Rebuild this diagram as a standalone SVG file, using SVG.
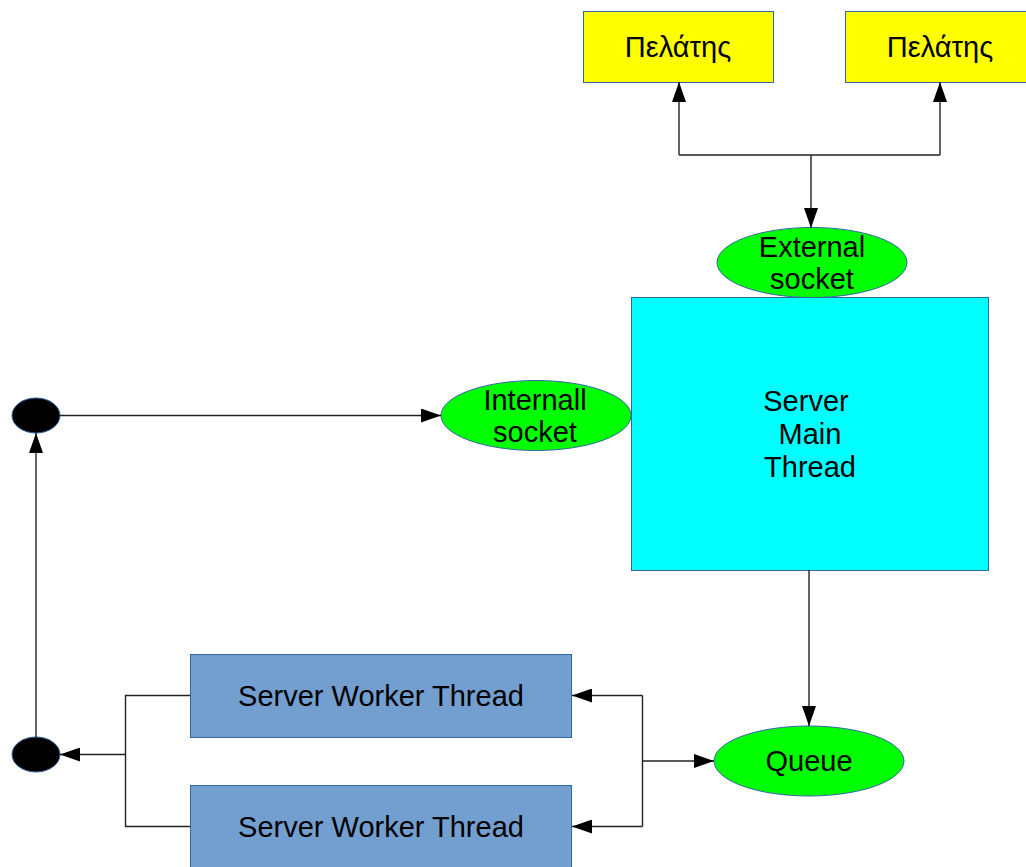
<svg xmlns="http://www.w3.org/2000/svg" width="1026" height="867" viewBox="0 0 1026 867">
<style>
text{font-family:"Liberation Sans",Arial,sans-serif;font-size:29px;fill:#000;text-anchor:middle}
.client{fill:#ffff00;stroke:#3465a4;stroke-width:1}
.main{fill:#00ffff;stroke:#3465a4;stroke-width:1}
.sock{fill:#00ff00;stroke:#3465a4;stroke-width:1}
.worker{fill:#729fcf;stroke:#3465a4;stroke-width:1}
.dot{fill:#000;stroke:#3465a4;stroke-width:1}
.conn path{fill:none;stroke:#222;stroke-width:1.4}
</style>
<defs>
<marker id="ah" markerUnits="userSpaceOnUse" markerWidth="20" markerHeight="14" refX="20" refY="7" orient="auto">
<path d="M0,0 L20,7 L0,14 Z" fill="#000"/>
</marker>
</defs>
<rect width="1026" height="867" fill="#fff"/>
<g id="client1"><rect class="client" x="583.5" y="11.5" width="190" height="71"/><text x="678" y="57">Πελάτης</text></g>
<g id="client2"><rect class="client" x="845.5" y="11.5" width="190" height="71"/><text x="940" y="57">Πελάτης</text></g>
<g id="main-thread"><rect class="main" x="631.5" y="297.5" width="357" height="273"/><text x="806" y="411">Server</text><text x="810" y="444">Main</text><text x="810" y="477">Thread</text></g>
<g id="external-socket"><ellipse class="sock" cx="812" cy="262.5" rx="95" ry="35"/><text x="812" y="257">External</text><text x="812" y="289">socket</text></g>
<g id="internal-socket"><ellipse class="sock" cx="536" cy="415.5" rx="95" ry="35"/><text x="535" y="410">Internall</text><text x="535" y="442">socket</text></g>
<g id="queue"><ellipse class="sock" cx="809" cy="761" rx="95" ry="35"/><text x="809" y="771">Queue</text></g>
<g id="worker1"><rect class="worker" x="190.5" y="654.5" width="381" height="83"/><text x="381" y="706">Server Worker Thread</text></g>
<g id="worker2"><rect class="worker" x="190.5" y="785.5" width="381" height="90"/><text x="381" y="837">Server Worker Thread</text></g>
<g id="dot-top"><ellipse class="dot" cx="36" cy="415.5" rx="24" ry="17.5"/></g>
<g id="dot-bottom"><ellipse class="dot" cx="36" cy="754.5" rx="24" ry="17.5"/></g>
<g class="conn" id="connectors">
<path d="M811,155 L811,228" marker-end="url(#ah)"/>
<path d="M679,155 L940,155"/>
<path d="M679,155 L679,82" marker-end="url(#ah)"/>
<path d="M940,155 L940,82" marker-end="url(#ah)"/>
<path d="M60,415.5 L441,415.5" marker-end="url(#ah)"/>
<path d="M809,570 L809,726" marker-end="url(#ah)"/>
<path d="M36,737 L36,433" marker-end="url(#ah)"/>
<path d="M190,695.5 L125.5,695.5 L125.5,826.5 L190,826.5"/>
<path d="M125.5,754.5 L60,754.5" marker-end="url(#ah)"/>
<path d="M642.5,761 L714,761" marker-end="url(#ah)"/>
<path d="M642.5,695.5 L642.5,826.5"/>
<path d="M642.5,695.5 L572,695.5" marker-end="url(#ah)"/>
<path d="M642.5,826.5 L572,826.5" marker-end="url(#ah)"/>
</g>
</svg>
